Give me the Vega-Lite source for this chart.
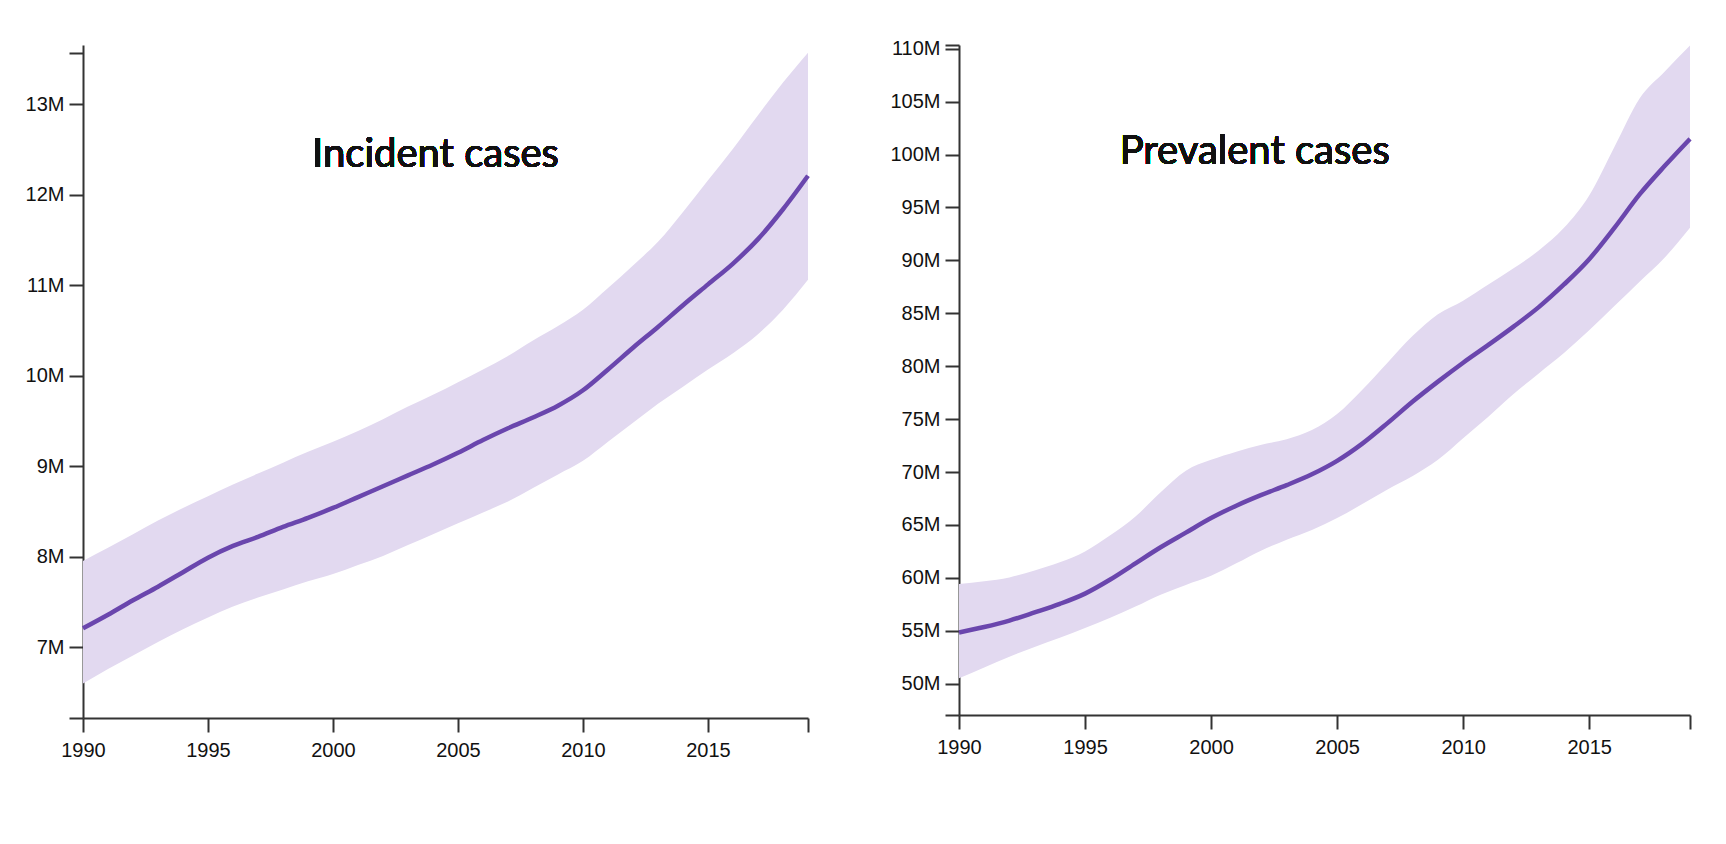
{
  "$schema": "https://vega.github.io/schema/vega-lite/v6.json",
  "background": "white",
  "padding": {"left": 25, "top": 35, "right": 5, "bottom": 5},
  "spacing": 151,
  "bounds": "flush",
  "config": {
    "view": {"stroke": null},
    "axis": {
      "domainColor": "#333333",
      "domainWidth": 2,
      "tickColor": "#333333",
      "tickWidth": 2,
      "tickSize": 14,
      "labelFont": "Liberation Sans",
      "labelFontSize": 20,
      "labelColor": "#111111",
      "grid": false,
      "title": null,
      "zindex": 1,
      "labelOverlap": false,
      "labelFlush": false
    }
  },
  "datasets": {
    "incident": [
      {"year": 1990, "value": 7.21, "lower": 6.60, "upper": 7.955},
      {"year": 1991, "value": 7.36, "lower": 6.76, "upper": 8.10},
      {"year": 1992, "value": 7.52, "lower": 6.91, "upper": 8.25},
      {"year": 1993, "value": 7.67, "lower": 7.06, "upper": 8.40},
      {"year": 1994, "value": 7.83, "lower": 7.20, "upper": 8.54},
      {"year": 1995, "value": 7.99, "lower": 7.33, "upper": 8.67},
      {"year": 1996, "value": 8.12, "lower": 7.45, "upper": 8.80},
      {"year": 1997, "value": 8.22, "lower": 7.55, "upper": 8.92},
      {"year": 1998, "value": 8.33, "lower": 7.64, "upper": 9.04},
      {"year": 1999, "value": 8.43, "lower": 7.73, "upper": 9.16},
      {"year": 2000, "value": 8.54, "lower": 7.81, "upper": 9.27},
      {"year": 2001, "value": 8.66, "lower": 7.91, "upper": 9.39},
      {"year": 2002, "value": 8.78, "lower": 8.01, "upper": 9.52},
      {"year": 2003, "value": 8.90, "lower": 8.13, "upper": 9.66},
      {"year": 2004, "value": 9.02, "lower": 8.25, "upper": 9.79},
      {"year": 2005, "value": 9.15, "lower": 8.37, "upper": 9.93},
      {"year": 2006, "value": 9.29, "lower": 8.49, "upper": 10.07},
      {"year": 2007, "value": 9.42, "lower": 8.61, "upper": 10.22},
      {"year": 2008, "value": 9.54, "lower": 8.76, "upper": 10.39},
      {"year": 2009, "value": 9.67, "lower": 8.91, "upper": 10.55},
      {"year": 2010, "value": 9.84, "lower": 9.06, "upper": 10.73},
      {"year": 2011, "value": 10.07, "lower": 9.27, "upper": 10.97},
      {"year": 2012, "value": 10.31, "lower": 9.48, "upper": 11.22},
      {"year": 2013, "value": 10.54, "lower": 9.69, "upper": 11.48},
      {"year": 2014, "value": 10.78, "lower": 9.88, "upper": 11.81},
      {"year": 2015, "value": 11.01, "lower": 10.07, "upper": 12.16},
      {"year": 2016, "value": 11.24, "lower": 10.25, "upper": 12.51},
      {"year": 2017, "value": 11.51, "lower": 10.46, "upper": 12.88},
      {"year": 2018, "value": 11.84, "lower": 10.73, "upper": 13.24},
      {"year": 2019, "value": 12.21, "lower": 11.06, "upper": 13.57}
    ],
    "prevalent": [
      {"year": 1990, "value": 54.84, "lower": 50.51, "upper": 59.43},
      {"year": 1991, "value": 55.35, "lower": 51.53, "upper": 59.68},
      {"year": 1992, "value": 55.96, "lower": 52.55, "upper": 60.04},
      {"year": 1993, "value": 56.73, "lower": 53.47, "upper": 60.70},
      {"year": 1994, "value": 57.54, "lower": 54.33, "upper": 61.47},
      {"year": 1995, "value": 58.51, "lower": 55.25, "upper": 62.49},
      {"year": 1996, "value": 59.84, "lower": 56.22, "upper": 64.02},
      {"year": 1997, "value": 61.37, "lower": 57.29, "upper": 65.80},
      {"year": 1998, "value": 62.89, "lower": 58.41, "upper": 68.09},
      {"year": 1999, "value": 64.27, "lower": 59.33, "upper": 70.13},
      {"year": 2000, "value": 65.65, "lower": 60.19, "upper": 71.15},
      {"year": 2001, "value": 66.82, "lower": 61.37, "upper": 71.92},
      {"year": 2002, "value": 67.84, "lower": 62.59, "upper": 72.58},
      {"year": 2003, "value": 68.76, "lower": 63.61, "upper": 73.09},
      {"year": 2004, "value": 69.78, "lower": 64.53, "upper": 73.96},
      {"year": 2005, "value": 71.05, "lower": 65.65, "upper": 75.48},
      {"year": 2006, "value": 72.68, "lower": 66.97, "upper": 77.78},
      {"year": 2007, "value": 74.62, "lower": 68.35, "upper": 80.33},
      {"year": 2008, "value": 76.66, "lower": 69.62, "upper": 82.87},
      {"year": 2009, "value": 78.54, "lower": 71.15, "upper": 84.91},
      {"year": 2010, "value": 80.33, "lower": 73.19, "upper": 86.19},
      {"year": 2011, "value": 82.01, "lower": 75.23, "upper": 87.72},
      {"year": 2012, "value": 83.74, "lower": 77.37, "upper": 89.25},
      {"year": 2013, "value": 85.58, "lower": 79.31, "upper": 90.93},
      {"year": 2014, "value": 87.72, "lower": 81.24, "upper": 93.07},
      {"year": 2015, "value": 90.11, "lower": 83.39, "upper": 96.13},
      {"year": 2016, "value": 93.07, "lower": 85.68, "upper": 100.71},
      {"year": 2017, "value": 96.23, "lower": 87.98, "upper": 105.30},
      {"year": 2018, "value": 98.93, "lower": 90.27, "upper": 107.85},
      {"year": 2019, "value": 101.48, "lower": 93.07, "upper": 110.30}
    ]
  },
  "hconcat": [
    {
      "width": 725,
      "height": 673,
      "data": {"name": "incident"},
      "encoding": {
        "x": {
          "field": "year",
          "type": "quantitative",
          "scale": {"domain": [1990, 2019], "nice": false, "zero": false},
          "axis": {
            "values": [1990, 1995, 2000, 2005, 2010, 2015, 2019],
            "format": "d",
            "labelExpr": "datum.value === 2019 ? '' : datum.label",
            "labelPadding": 8
          }
        }
      },
      "layer": [
        {
          "mark": {"type": "area", "color": "#e2d9f0", "opacity": 1, "interpolate": "monotone"},
          "encoding": {
            "y": {
              "field": "lower",
              "type": "quantitative",
              "scale": {"domain": [6.219, 13.655], "nice": false, "zero": false},
              "axis": {
                "values": [6.219, 7, 8, 9, 10, 11, 12, 13, 13.571],
                "labelExpr": "datum.value % 1 === 0 ? datum.value + 'M' : ''",
                "labelPadding": 5
              }
            },
            "y2": {"field": "upper"}
          }
        },
        {
          "mark": {"type": "line", "color": "#6a46ad", "strokeWidth": 4.5, "interpolate": "monotone"},
          "encoding": {"y": {"field": "value", "type": "quantitative"}}
        },
        {
          "mark": {"type": "text", "font": "Lato", "fontSize": 40, "align": "center", "baseline": "alphabetic", "color": "#111111"},
          "encoding": {
            "x": {"datum": 2004.1},
            "y": {"datum": 12.307},
            "text": {"value": "Incident cases"}
          }
        }
      ]
    },
    {
      "width": 731,
      "height": 670,
      "data": {"name": "prevalent"},
      "encoding": {
        "x": {
          "field": "year",
          "type": "quantitative",
          "scale": {"domain": [1990, 2019], "nice": false, "zero": false},
          "axis": {
            "values": [1990, 1995, 2000, 2005, 2010, 2015, 2019],
            "format": "d",
            "labelExpr": "datum.value === 2019 ? '' : datum.label",
            "labelPadding": 8
          }
        }
      },
      "layer": [
        {
          "mark": {"type": "area", "color": "#e2d9f0", "opacity": 1, "interpolate": "monotone"},
          "encoding": {
            "y": {
              "field": "lower",
              "type": "quantitative",
              "scale": {"domain": [47.04, 110.35], "nice": false, "zero": false},
              "axis": {
                "values": [47.04, 50, 55, 60, 65, 70, 75, 80, 85, 90, 95, 100, 105, 110, 110.35],
                "labelExpr": "datum.value % 5 === 0 ? datum.value + 'M' : ''",
                "labelPadding": 5
              }
            },
            "y2": {"field": "upper"}
          }
        },
        {
          "mark": {"type": "line", "color": "#6a46ad", "strokeWidth": 4.5, "interpolate": "monotone"},
          "encoding": {"y": {"field": "value", "type": "quantitative"}}
        },
        {
          "mark": {"type": "text", "font": "Lato", "fontSize": 40, "align": "center", "baseline": "alphabetic", "color": "#111111"},
          "encoding": {
            "x": {"datum": 2001.73},
            "y": {"datum": 99.1},
            "text": {"value": "Prevalent cases"}
          }
        }
      ]
    }
  ]
}
